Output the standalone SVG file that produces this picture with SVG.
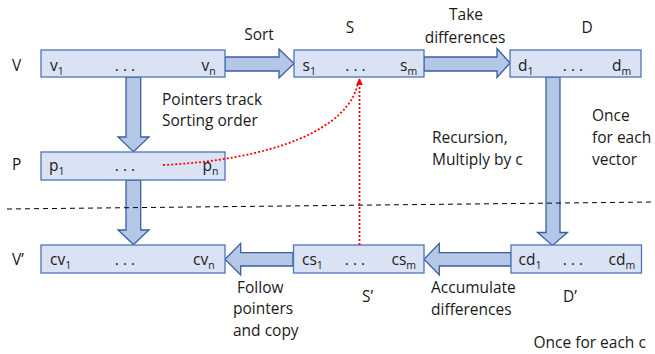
<svg xmlns="http://www.w3.org/2000/svg" width="655" height="354" viewBox="0 0 655 354">
<defs>
<style>
text{font-family:"Open Sans","Noto Sans",sans-serif;font-size:15.5px;fill:#1a1a1a}
.box{fill:#dae3f3;stroke:#4f73b8;stroke-width:1.3}
.arr{fill:#b4c7e7;stroke:#3a5f9f;stroke-width:1.3;stroke-linejoin:miter}
.sub{font-size:10.5px}
.mid{text-anchor:middle}
.dot{fill:none;stroke:#ff0000;stroke-width:1.8;stroke-dasharray:2 2}
</style>
<marker id="rh" viewBox="0 0 10 10" refX="9" refY="5" markerWidth="4" markerHeight="4" orient="auto" markerUnits="strokeWidth">
<path d="M0,0 L10,5 L0,10 z" fill="#ff0000"/>
</marker>
</defs>
<g id="connectors">
<polygon class="arr" points="225,57 279,57 279,49 294,63.5 279,78 279,71 225,71"/>
<polygon class="arr" points="424,57 497,57 497,48.5 510,63 497,77.5 497,71 424,71"/>
<polygon class="arr" points="126,77 140.7,77 140.7,137 149,137 133.5,151.7 118,137 126,137"/>
<polygon class="arr" points="126,180 140.7,180 140.7,230 149,230 133.5,244.5 118,230 126,230"/>
<polygon class="arr" points="546,77 560,77 560,232.5 567.5,232.5 552.5,245.5 537.5,232.5 546,232.5"/>
<polygon class="arr" points="293,252.7 240.7,252.7 240.7,243.3 225,259.3 240.7,275 240.7,266 293,266"/>
<polygon class="arr" points="511,252.7 439.3,252.7 439.3,243.3 424,259.3 439.3,275 439.3,266 511,266"/>
<line x1="7" y1="209" x2="655" y2="202" stroke="#000" stroke-width="1" stroke-dasharray="5 4"/>
</g>
<g id="V">
<rect class="box" x="41" y="50" width="184" height="27"/>
<text x="12" y="70.7">V</text>
<text x="50" y="71">v<tspan class="sub" dy="3.5">1</tspan></text>
<text class="mid" x="125" y="71">. . .</text>
<text x="201.5" y="71">v<tspan class="sub" dy="3.5">n</tspan></text>
</g>
<g id="S">
<rect class="box" x="294" y="50" width="130" height="27"/>
<text class="mid" x="350" y="33">S</text>
<text x="302.5" y="71">s<tspan class="sub" dy="3.5">1</tspan></text>
<text class="mid" x="355.5" y="71">. . .</text>
<text x="400" y="71">s<tspan class="sub" dy="3.5">m</tspan></text>
</g>
<g id="D">
<rect class="box" x="510" y="50" width="131" height="27"/>
<text class="mid" x="587" y="33">D</text>
<text x="518" y="71">d<tspan class="sub" dy="3.5">1</tspan></text>
<text class="mid" x="573" y="71">. . .</text>
<text x="612" y="71">d<tspan class="sub" dy="3.5">m</tspan></text>
</g>
<g id="P">
<rect class="box" x="41" y="152" width="184" height="28"/>
<text x="12" y="170">P</text>
<text x="49" y="171">p<tspan class="sub" dy="3.5">1</tspan></text>
<text class="mid" x="125" y="171">. . .</text>
<text x="202.5" y="171">p<tspan class="sub" dy="3.5">n</tspan></text>
</g>
<g id="Vp">
<rect class="box" x="41" y="245" width="184" height="28"/>
<text x="12" y="265">V’</text>
<text x="50" y="265">cv<tspan class="sub" dy="3.5">1</tspan></text>
<text class="mid" x="125" y="265">. . .</text>
<text x="193" y="265">cv<tspan class="sub" dy="3.5">n</tspan></text>
</g>
<g id="Sp">
<rect class="box" x="293.5" y="245" width="130.5" height="28"/>
<text x="302" y="265">cs<tspan class="sub" dy="3.5">1</tspan></text>
<text class="mid" x="355" y="265">. . .</text>
<text x="391.5" y="265">cs<tspan class="sub" dy="3.5">m</tspan></text>
<text x="362" y="302">S’</text>
</g>
<g id="Dp">
<rect class="box" x="511" y="245" width="130.5" height="28"/>
<text x="518.5" y="265">cd<tspan class="sub" dy="3.5">1</tspan></text>
<text class="mid" x="573" y="265">. . .</text>
<text x="608.5" y="265">cd<tspan class="sub" dy="3.5">m</tspan></text>
<text x="563" y="302">D’</text>
</g>
<g id="pointer-connectors">
<path class="dot" d="M163,165 C270,160 350,130 358,82"/>
<line class="dot" x1="359.5" y1="245" x2="359.5" y2="79" marker-end="url(#rh)"/>
</g>
<g id="labels">
<text class="mid" x="259" y="40">Sort</text>
<text class="mid" x="466" y="20">Take</text>
<text class="mid" x="465" y="43">differences</text>
<text x="162" y="105">Pointers track</text>
<text x="162" y="126">Sorting order</text>
<text x="592" y="120.5">Once</text>
<text x="592" y="142.7">for each</text>
<text x="592" y="165">vector</text>
<text x="432" y="143">Recursion,</text>
<text x="432" y="164.5">Multiply by c</text>
<text x="237" y="293">Follow</text>
<text x="233" y="314">pointers</text>
<text x="233" y="336">and copy</text>
<text x="431" y="293">Accumulate</text>
<text x="431" y="315">differences</text>
<text x="533.5" y="348">Once for each c</text>
</g>
</svg>
